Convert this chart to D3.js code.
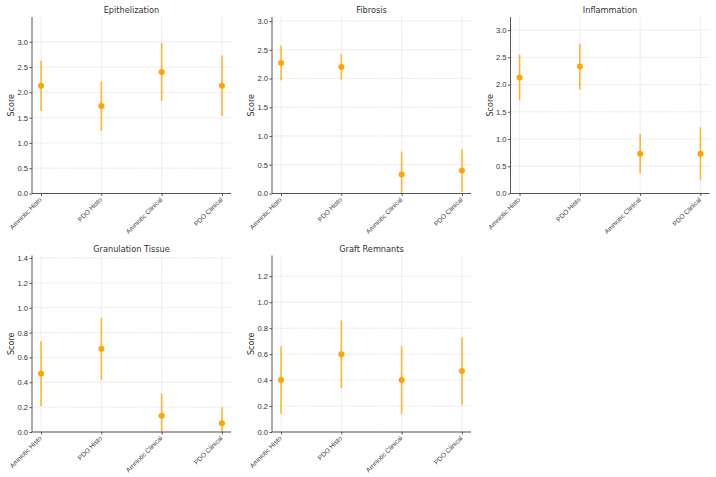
<!DOCTYPE html>
<html>
<head>
<meta charset="utf-8">
<script src="https://cdn.jsdelivr.net/npm/d3@7"></script>
<style>
  body { margin: 0; background: #fff; }
  svg { font-family: "DejaVu Sans", sans-serif; }
</style>
</head>
<body>
<div id="chart"></div>
<script>
// data
const groups = ['Amniotic Histo', 'PDO Histo', 'Amniotic Clinical', 'PDO Clinical'];
const metrics = ['Epithelization', 'Fibrosis', 'Inflammation', 'Granulation Tissue', 'Graft Remnants'];
const means = [
    [2.13, 1.73, 2.40, 2.13],
    [2.27, 2.20, 0.33, 0.40],
    [2.13, 2.33, 0.73, 0.73],
    [0.47, 0.67, 0.13, 0.07],
    [0.40, 0.60, 0.40, 0.47]
];
const errs = [
    [0.50, 0.49, 0.57, 0.60],
    [0.30, 0.22, 0.40, 0.37],
    [0.42, 0.42, 0.36, 0.48],
    [0.26, 0.25, 0.18, 0.13],
    [0.26, 0.26, 0.26, 0.26]
];
const yLimits = [3.49, 3.07, 3.24, 1.42, 1.36];
const yTicks = [
    [0, 0.5, 1.0, 1.5, 2.0, 2.5, 3.0],
    [0, 0.5, 1.0, 1.5, 2.0, 2.5, 3.0],
    [0, 0.5, 1.0, 1.5, 2.0, 2.5, 3.0],
    [0, 0.2, 0.4, 0.6, 0.8, 1.0, 1.2, 1.4],
    [0, 0.2, 0.4, 0.6, 0.8, 1.0, 1.2]
];

var width = 716, height = 477;
var lefts = [32, 272, 510.5];
var tops = [17, 255.5];
var pw = 199, ph = 176.5;
var dotColor = '#FFA500';

var svg = d3.select('#chart').append('svg')
    .attr('width', width)
    .attr('height', height);

metrics.forEach((name, i) => {
    var col = i % 3, row = Math.floor(i / 3);
    var g = svg.append('g')
        .attr('transform', 'translate(' + lefts[col] + ',' + tops[row] + ')');

    var x = d3.scalePoint().domain(groups).range([0, pw]).padding(0.15);
    var y = d3.scaleLinear().domain([0, yLimits[i]]).range([ph, 0]);

    // grid
    g.append('g').selectAll('line').data(yTicks[i]).join('line')
        .attr('x1', 0).attr('x2', pw)
        .attr('y1', d => y(d)).attr('y2', d => y(d))
        .attr('stroke', '#d4d4d4').attr('stroke-width', 0.6)
        .attr('stroke-dasharray', '1.5,1');
    g.append('g').selectAll('line').data(groups).join('line')
        .attr('x1', d => x(d)).attr('x2', d => x(d))
        .attr('y1', 0).attr('y2', ph)
        .attr('stroke', '#d4d4d4').attr('stroke-width', 0.6)
        .attr('stroke-dasharray', '1.5,1');

    var clipId = 'clip' + i;
    g.append('clipPath').attr('id', clipId)
        .append('rect').attr('x', -5).attr('y', 0).attr('width', pw + 10).attr('height', ph);

    var pts = groups.map((k, j) => ({ k: k, m: means[i][j], e: errs[i][j] }));

    var marks = g.append('g').attr('clip-path', 'url(#' + clipId + ')');
    marks.selectAll('line.err').data(pts).join('line')
        .attr('class', 'err')
        .attr('x1', d => x(d.k)).attr('x2', d => x(d.k))
        .attr('y1', d => y(d.m - d.e)).attr('y2', d => y(d.m + d.e))
        .attr('stroke', dotColor).attr('stroke-opacity', 0.8)
        .attr('stroke-width', 1.6);
    marks.selectAll('circle').data(pts).join('circle')
        .attr('cx', d => x(d.k)).attr('cy', d => y(d.m))
        .attr('r', 3).attr('fill', dotColor);

    // axes
    var yaxis = d3.axisLeft(y).tickValues(yTicks[i]).tickFormat(d3.format('.1f'))
        .tickSize(2.5).tickPadding(1.5);
    var ya = g.append('g').call(yaxis);
    ya.selectAll('text').attr('font-size', 7.6).attr('fill', '#333');

    var xaxis = d3.axisBottom(x).tickSize(2.5).tickPadding(0);
    var xa = g.append('g').attr('transform', 'translate(0,' + ph + ')').call(xaxis);
    xa.selectAll('text')
        .attr('font-size', 6.6).attr('fill', '#444')
        .attr('text-anchor', 'end')
        .attr('y', 0).attr('dy', '0.35em')
        .attr('transform', 'translate(-1,5) rotate(-45)');

    [ya, xa].forEach(a => {
        a.select('.domain').attr('stroke', '#555').attr('stroke-width', 1);
        a.selectAll('.tick line').attr('stroke', '#555');
    });
    xa.select('.domain').attr('d', 'M0,0H' + pw);
    ya.select('.domain').attr('d', 'M0,0V' + ph);

    g.append('text')
        .attr('x', pw / 2).attr('y', -4)
        .attr('text-anchor', 'middle')
        .attr('font-size', 8.2).attr('fill', '#333')
        .text(name);

    g.append('text')
        .attr('transform', 'translate(-18,' + (ph / 2) + ') rotate(-90)')
        .attr('text-anchor', 'middle')
        .attr('font-size', 8).attr('fill', '#333')
        .text('Score');
});
</script>
</body>
</html>
